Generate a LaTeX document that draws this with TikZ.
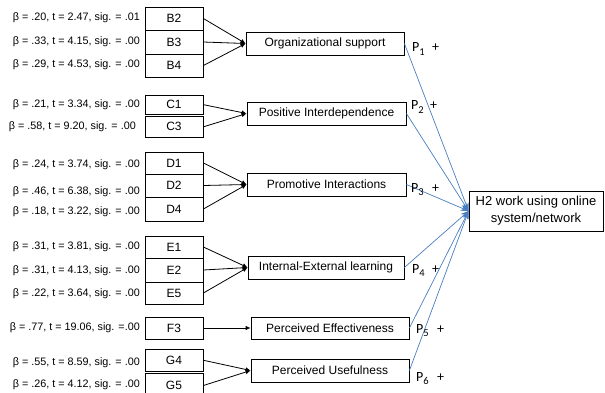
\documentclass[tikz,border=0pt]{standalone}
\usepackage{fontspec}
\setmainfont{Liberation Sans}
\newfontfamily\calib{Carlito}
\usetikzlibrary{arrows.meta}
\definecolor{lineblue}{RGB}{74,126,193}
\newcommand{\plabtext}[2]{\makebox[#2][l]{P\raisebox{-3.8pt}{\fontsize{10.5}{11}\selectfont #1}}+}
\begin{document}
\begin{tikzpicture}[x=1pt,y=-1pt,
  ind/.style={draw=black, line width=0.8pt, minimum width=58pt, inner sep=0pt, font=\fontsize{12}{14}\selectfont},
  cons/.style={draw=black, line width=0.8pt, inner sep=0pt, font=\fontsize{12}{14}\selectfont},
  beta/.style={anchor=east, inner sep=0pt, font=\fontsize{10.8}{12}\selectfont},
  plab/.style={anchor=base west, inner sep=0pt, font=\calib\fontsize{14}{16}\selectfont},
  blk/.style={line width=0.8pt, -{Latex[length=5pt,width=4.5pt]}},
  blu/.style={draw=lineblue, line width=0.7pt, -{Stealth[length=8pt,width=6pt]}}
]
\useasboundingbox (0,0) rectangle (605,392);

% indicator boxes
\node[ind, minimum height=23pt] (b2) at (174,18.5) {B2};
\node[ind, minimum height=24pt] (b3) at (174,42) {B3};
\node[ind, minimum height=23pt] (b4) at (174,65.5) {B4};
\node[ind, minimum height=19.3pt] (c1) at (174,104.65) {C1};
\node[ind, minimum height=20.3pt] (c3) at (174,126.85) {C3};
\node[ind, minimum height=22pt] (d1) at (174,163) {D1};
\node[ind, minimum height=23pt] (d2) at (174,185.5) {D2};
\node[ind, minimum height=24pt] (d4) at (174,209) {D4};
\node[ind, minimum height=22pt] (e1) at (174,247) {E1};
\node[ind, minimum height=24pt] (e2) at (174,270) {E2};
\node[ind, minimum height=22pt] (e5) at (174,293) {E5};
\node[ind, minimum height=22pt] (f3) at (174,328) {F3};
\node[ind, minimum height=22.5pt] (g4) at (174,360.25) {G4};
\node[ind, minimum height=24pt] (g5) at (174,385.5) {G5};

% beta labels
\node[beta] (lb2) at (140,18) {β = .20, t = 2.47, sig. = .01};
\node[beta] (lb3) at (140,42) {β = .33, t = 4.15, sig. = .00};
\node[beta] (lb4) at (140,65) {β = .29, t = 4.53, sig. = .00};
\node[beta] (lc1) at (140,105) {β = .21, t = 3.34, sig. = .00};
\node[beta] (lc3) at (136,127) {β = .58, t = 9.20, sig. = .00};
\node[beta] (ld1) at (140,165) {β = .24, t = 3.74, sig. = .00};
\node[beta] (ld2) at (140,192) {β = .46, t = 6.38, sig. = .00};
\node[beta] (ld4) at (140,212) {β = .18, t = 3.22, sig. = .00};
\node[beta] (le1) at (140,247) {β = .31, t = 3.81, sig. = .00};
\node[beta] (le2) at (140,271) {β = .31, t = 4.13, sig. = .00};
\node[beta] (le5) at (140,294) {β = .22, t = 3.64, sig. = .00};
\node[beta] (lf3) at (140,328) {β = .77, t = 19.06, sig. =.00};
\node[beta] (lg4) at (140,363) {β = .55, t = 8.59, sig. = .00};
\node[beta] (lg5) at (140,385) {β = .26, t = 4.12, sig. = .00};

% construct boxes
\node[cons, minimum width=158pt, minimum height=23pt] (org) at (325,43.5) {Organizational support};
\node[cons, minimum width=159pt, minimum height=23pt] (pos) at (326.5,113.5) {Positive Interdependence};
\node[cons, minimum width=159pt, minimum height=23pt] (pro) at (326.5,184.5) {Promotive Interactions};
\node[cons, minimum width=156pt, minimum height=23pt] (int) at (326,267.5) {Internal-External learning};
\node[cons, minimum width=158pt, minimum height=22pt] (eff) at (330,328) {Perceived Effectiveness};
\node[cons, minimum width=158pt, minimum height=23pt] (use) at (330,370.5) {Perceived Usefulness};

% outcome box
\node[cons, minimum width=134pt, minimum height=40pt, align=center, font=\fontsize{13}{17}\selectfont] (h2) at (536,211) {H2 work using online\\system/network};

% black arrows
\foreach \s in {b2,b3,b4} \draw[blk] (\s.east) -- (org.west);
\foreach \s in {c1,c3} \draw[blk] (\s.east) -- (pos.west);
\foreach \s in {d1,d2,d4} \draw[blk] (\s.east) -- (pro.west);
\foreach \s in {e1,e2,e5} \draw[blk] (\s.east) -- (int.west);
\draw[blk] (f3.east) -- (eff.west);
\foreach \s in {g4,g5} \draw[blk] (\s.east) -- (use.west);

% blue arrows
\foreach \s in {org,pos,pro,int,eff,use} \draw[blu] (\s.east) -- (h2.west);

% P labels
\node[plab] (p1) at (412,51.3) {\plabtext{1}{20pt}};
\node[plab] (p2) at (411,109.5) {\plabtext{2}{19pt}};
\node[plab] (p3) at (411,192) {\plabtext{3}{21pt}};
\node[plab] (p4) at (412,273) {\plabtext{4}{20pt}};
\node[plab] (p5) at (416,333) {\plabtext{5}{21pt}};
\node[plab] (p6) at (416,381) {\plabtext{6}{21pt}};
\end{tikzpicture}
\end{document}
